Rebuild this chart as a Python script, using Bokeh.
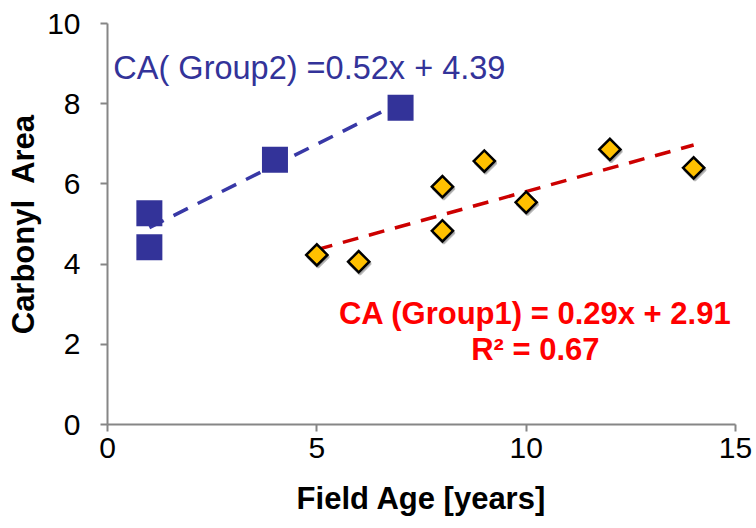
from bokeh.plotting import figure
from bokeh.models import ColumnDataSource, FixedTicker, Range1d, Label
from bokeh.transform import dodge
from bokeh.embed import file_html
from bokeh.resources import INLINE

# Group 2 measurements (squares)
g2_age = [1, 1, 4, 7]
g2_ca = [5.27, 4.42, 6.60, 7.90]

# Group 1 measurements (diamonds)
g1_age = [5, 6, 8, 8, 9, 10, 12, 14]
g1_ca = [4.23, 4.06, 5.93, 4.83, 6.57, 5.54, 6.86, 6.40]

# Linear fits
g1_slope, g1_intercept, g1_r2 = 0.29, 2.91, 0.67
g2_slope, g2_intercept = 0.52, 4.39

x_ticks = [0, 5, 10, 15]
y_ticks = [0, 2, 4, 6, 8, 10]

FONT = "Liberation Sans"
AXIS_GREY = "#868686"

p = figure(width=756, height=528, output_backend="svg", toolbar_location=None,
           x_range=Range1d(0, 15), y_range=Range1d(0, 10),
           min_border_left=107, min_border_right=21,
           min_border_top=23, min_border_bottom=104)
p.outline_line_color = None
p.grid.visible = False
p.background_fill_color = "white"
p.border_fill_color = "white"

for ax in (p.xaxis[0], p.yaxis[0]):
    ax.axis_line_color = AXIS_GREY
    ax.axis_line_width = 2
    ax.major_tick_line_color = AXIS_GREY
    ax.major_tick_line_width = 2
    ax.major_tick_out = 7
    ax.major_tick_in = 0
    ax.minor_tick_line_color = None
    ax.major_label_text_font = FONT
    ax.major_label_text_font_size = "30px"
    ax.major_label_text_color = "black"
    ax.axis_label_text_font = FONT
    ax.axis_label_text_font_size = "31px"
    ax.axis_label_text_font_style = "bold"
    ax.axis_label_text_color = "black"

p.xaxis.ticker = FixedTicker(ticks=x_ticks)
p.yaxis.ticker = FixedTicker(ticks=y_ticks)
p.xaxis.axis_label = "Field Age [years]"
p.yaxis.axis_label = "Carbonyl\u00a0 Area"
p.xaxis.major_label_standoff = 6
p.yaxis.major_label_standoff = 20
p.xaxis.axis_label_standoff = 20
p.yaxis.axis_label_standoff = 3

# Trend lines over each group's age span
g1_fit_x = [min(g1_age), max(g1_age)]
g1_fit_y = [g1_slope * x + g1_intercept for x in g1_fit_x]
g2_fit_x = [min(g2_age), max(g2_age)]
g2_fit_y = [g2_slope * x + g2_intercept for x in g2_fit_x]

p.line(g2_fit_x, g2_fit_y, line_color="#3838A6", line_width=3.5,
       line_dash="16 11")
p.line(g1_fit_x, g1_fit_y, line_color="#CC0000", line_width=3.5,
       line_dash="16 11")

src1 = ColumnDataSource(data=dict(age=g1_age, ca=g1_ca))
src2 = ColumnDataSource(data=dict(age=g2_age, ca=g2_ca))

# soft drop shadow under the diamonds
p.scatter(x=dodge("age", 0.03, range=p.x_range), y=dodge("ca", -0.05, range=p.y_range),
          source=src1, marker="square", angle=0.785398, size=15,
          fill_color="#8c8c8c", fill_alpha=0.6, line_color="#8c8c8c",
          line_alpha=0.6, line_width=2.5)
p.scatter(x="age", y="ca", source=src1, marker="square", angle=0.785398,
          size=15, fill_color="#FFC000", line_color="black", line_width=2.5,
          line_join="miter")
p.scatter(x="age", y="ca", source=src2, marker="square", size=26,
          fill_color="#333399", line_color=None)

p.add_layout(Label(x=0.14, y=8.9,
                   text=f"CA( Group2) ={g2_slope:.2f}x + {g2_intercept:.2f}",
                   text_font=FONT, text_font_size="32.5px", text_color="#333399",
                   text_baseline="alphabetic", text_align="left"))
p.add_layout(Label(x=10.22, y=2.78,
                   text=f"CA (Group1) = {g1_slope:.2f}x + {g1_intercept:.2f}",
                   text_font=FONT, text_font_size="31px", text_font_style="bold",
                   text_color="#FF0000", text_baseline="alphabetic",
                   text_align="center"))
p.add_layout(Label(x=10.22, y=1.86, text=f"R\u00b2 = {g1_r2:.2f}",
                   text_font=FONT, text_font_size="31px", text_font_style="bold",
                   text_color="#FF0000", text_baseline="alphabetic",
                   text_align="center"))

open("out.html", "w").write(file_html(p, INLINE))
